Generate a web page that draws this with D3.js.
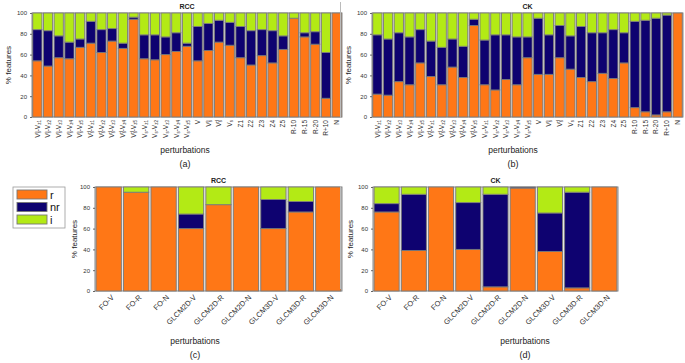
<!DOCTYPE html>
<html>
<head>
<meta charset="utf-8">
<script src="https://cdn.jsdelivr.net/npm/d3@7"></script>
<style>
  body { margin: 0; background: #fff; }
  svg { font-family: "Liberation Sans", Arial, sans-serif; }
  .tick text { fill: #333; }
</style>
</head>
<body>
<svg id="fig" width="685" height="363"></svg>
<script>
// ---- data ----
const top_categories = [
  "V_{s}^{e}-V_{z1}", "V_{s}^{e}-V_{z2}", "V_{s}^{e}-V_{z3}", "V_{s}^{e}-V_{z4}", "V_{s}^{e}-V_{z5}",
  "V_{s}^{d}-V_{z1}", "V_{s}^{d}-V_{z2}", "V_{s}^{d}-V_{z3}", "V_{s}^{d}-V_{z4}", "V_{s}^{d}-V_{z5}",
  "V_{s}-V_{z1}", "V_{s}-V_{z2}", "V_{s}-V_{z3}", "V_{s}-V_{z4}", "V_{s}-V_{z5}",
  "V", "V_{s}^{e}", "V_{s}^{d}", "V_{s}",
  "Z1", "Z2", "Z3", "Z4", "Z5",
  "R-10", "R-15", "R-20", "R+10", "N"
];
const rcc_top_r  = [54,49,57,56,67,71,62,73,66,94,56,55,60,63,68,54,64,72,69,57,50,59,52,65,95,77,70,18,100];
const rcc_top_nr = [30,34,21,16,8,21,22,12,5,2,23,24,17,18,3,33,26,21,22,30,33,25,31,13,0,4,12,44,0];
const rcc_top_i  = [16,17,22,28,25,8,16,15,29,4,21,21,23,19,29,13,10,7,9,13,17,16,17,22,5,19,18,38,0];

const ck_top_r  = [22,21,34,31,52,39,31,48,38,88,31,26,36,31,57,41,41,57,46,38,34,42,37,52,9,5,2,5,100];
const ck_top_nr = [57,54,47,46,32,34,36,27,30,6,43,53,43,46,20,54,38,31,32,49,47,39,47,29,83,88,93,93,0];
const ck_top_i  = [21,25,19,23,16,27,33,25,32,6,26,21,21,23,23,5,21,12,22,13,19,19,16,19,8,7,5,2,0];

const bottom_categories = ["FO-V","FO-R","FO-N","GLCM2D-V","GLCM2D-R","GLCM2D-N","GLCM3D-V","GLCM3D-R","GLCM3D-N"];
const rcc_bot_r  = [100,95,100,60,83,100,60,76,100];
const rcc_bot_nr = [0,0,0,14,0,0,28,10,0];
const rcc_bot_i  = [0,5,0,26,17,0,12,14,0];

const ck_bot_r  = [76,39,100,40,4,99,38,3,100];
const ck_bot_nr = [8,54,0,45,89,1,37,92,0];
const ck_bot_i  = [16,7,0,15,7,0,25,5,0];

const series = ["r", "nr", "i"];
const y_ticks = [0, 20, 40, 60, 80, 100];

const colors = {r: "#ff7716", nr: "#0e0270", i: "#b3ea15"};

const svg = d3.select("#fig");

// label markup: _{sub} ^{sup}
function write_label(text, str) {
  text.text(null);
  const re = /(_|\^)\{([^}]*)\}|([^_^]+)/g;
  let m, prev = null;
  while ((m = re.exec(str)) !== null) {
    if (m[3]) {
      text.append("tspan").text(m[3]);
      prev = null;
    } else {
      const t = text.append("tspan")
        .attr("font-size", "0.7em")
        .attr("baseline-shift", m[1] == "_" ? "-25%" : "45%")
        .text(m[2]);
      if (prev == "_" && m[1] == "^") t.attr("dx", (-0.62 * m[2].length) + "em");
      prev = m[1];
    }
  }
}

function draw_stack(cfg) {
  const g = svg.append("g").attr("transform", "translate(" + cfg.left + "," + cfg.top + ")");
  const w = cfg.width, h = cfg.height;

  const x = d3.scaleBand().domain(cfg.categories).range([0, w]).paddingInner(cfg.pad).paddingOuter(cfg.pad / 2);
  const y = d3.scaleLinear().domain([0, 100]).range([h, 0]);

  const rows = cfg.categories.map(function (c, k) {
    return {cat: c, r: cfg.r[k], nr: cfg.nr[k], i: cfg.i[k]};
  });
  const stacked = d3.stack().keys(series)(rows);

  g.append("rect")
    .attr("width", w).attr("height", h)
    .attr("fill", "#e6e6e6").attr("stroke", "#8a8a8a").attr("stroke-width", 1);

  g.selectAll(".layer")
    .data(stacked)
    .enter().append("g")
    .attr("class", "layer")
    .attr("fill", function (d) { return colors[d.key]; })
    .selectAll("rect")
    .data(function (d) { return d.filter(function (p) { return p[1] - p[0] > 0; }); })
    .enter().append("rect")
    .attr("x", function (d) { return x(d.data.cat); })
    .attr("width", x.bandwidth())
    .attr("y", function (d) { return y(d[1]); })
    .attr("height", function (d) { return y(d[0]) - y(d[1]); })
    .attr("stroke", "#7a7a7a")
    .attr("stroke-width", 0.9);

  // y axis
  const ya = g.append("g")
    .call(d3.axisLeft(y).tickValues(y_ticks).tickSize(2).tickPadding(3));
  ya.select(".domain").remove();
  ya.selectAll(".tick line").attr("stroke", "#666");
  ya.selectAll("text").attr("font-size", 6);

  // x axis
  const xa = g.append("g")
    .attr("transform", "translate(0," + h + ")")
    .call(d3.axisBottom(x).tickSize(0).tickPadding(0));
  xa.select(".domain").remove();
  if (cfg.rotate == 90) {
    xa.selectAll("text")
      .attr("font-size", 6.5)
      .attr("text-anchor", "end")
      .attr("dy", "0.35em")
      .attr("transform", "translate(0,3) rotate(-90)")
      .each(function (d) { write_label(d3.select(this), d); });
  } else {
    xa.selectAll("text")
      .attr("font-size", 7.5)
      .attr("text-anchor", "end")
      .attr("dy", "0.35em")
      .attr("transform", "translate(4,5) rotate(-45)");
  }

  // title
  g.append("text")
    .attr("x", w / 2).attr("y", -4)
    .attr("text-anchor", "middle")
    .attr("font-size", 7).attr("font-weight", "bold")
    .attr("fill", "#222")
    .text(cfg.title);

  // y label
  g.append("text")
    .attr("transform", "translate(" + cfg.ylab_x + "," + (h / 2) + ") rotate(-90)")
    .attr("text-anchor", "middle")
    .attr("font-size", 8).attr("fill", "#222")
    .text("% features");

  // x label + panel letter
  g.append("text")
    .attr("x", cfg.xlab_cx).attr("y", cfg.xlab_y)
    .attr("text-anchor", "middle")
    .attr("font-size", 8.5).attr("fill", "#222")
    .text("perturbations");
  g.append("text")
    .attr("x", cfg.xlab_cx).attr("y", cfg.xlab_y + 14)
    .attr("text-anchor", "middle")
    .attr("font-size", 9).attr("fill", "#222")
    .text(cfg.letter);
}

draw_stack({left: 32, top: 13, width: 310, height: 104, categories: top_categories,
  r: rcc_top_r, nr: rcc_top_nr, i: rcc_top_i, pad: 0.14, rotate: 90, title: "RCC",
  ylab_x: -21, xlab_cx: 153, xlab_y: 140, letter: "(a)"});
draw_stack({left: 372, top: 13, width: 311, height: 104, categories: top_categories,
  r: ck_top_r, nr: ck_top_nr, i: ck_top_i, pad: 0.14, rotate: 90, title: "CK",
  ylab_x: -21, xlab_cx: 141, xlab_y: 140, letter: "(b)"});
draw_stack({left: 95, top: 187, width: 247, height: 104, categories: bottom_categories,
  r: rcc_bot_r, nr: rcc_bot_nr, i: rcc_bot_i, pad: 0.08, rotate: 45, title: "RCC",
  ylab_x: -18, xlab_cx: 100, xlab_y: 157, letter: "(c)"});
draw_stack({left: 373, top: 187, width: 245, height: 104, categories: bottom_categories,
  r: ck_bot_r, nr: ck_bot_nr, i: ck_bot_i, pad: 0.08, rotate: 45, title: "CK",
  ylab_x: -20, xlab_cx: 152, xlab_y: 157, letter: "(d)"});

// separator lines between panels
svg.append("line").attr("x1", 340.5).attr("x2", 340.5).attr("y1", 2).attr("y2", 118)
  .attr("stroke", "#bbb").attr("stroke-width", 1);
svg.append("line").attr("x1", 340.5).attr("x2", 340.5).attr("y1", 186).attr("y2", 289)
  .attr("stroke", "#bbb").attr("stroke-width", 1);

// legend
const legend = svg.append("g").attr("transform", "translate(13,187)");
legend.append("rect").attr("width", 52).attr("height", 41)
  .attr("fill", "#fff").attr("stroke", "#999").attr("stroke-width", 0.8);
legend.selectAll(".lg")
  .data(series)
  .enter().append("g")
  .attr("class", "lg")
  .attr("transform", function (d, k) { return "translate(4," + (3 + k * 12.5) + ")"; })
  .each(function (d) {
    const e = d3.select(this);
    e.append("rect").attr("width", 30).attr("height", 9)
      .attr("fill", colors[d]).attr("stroke", "#777").attr("stroke-width", 0.9);
    e.append("text").attr("x", 33).attr("y", 8.5)
      .attr("font-size", 11).attr("fill", "#111").text(d);
  });
</script>
</body>
</html>
